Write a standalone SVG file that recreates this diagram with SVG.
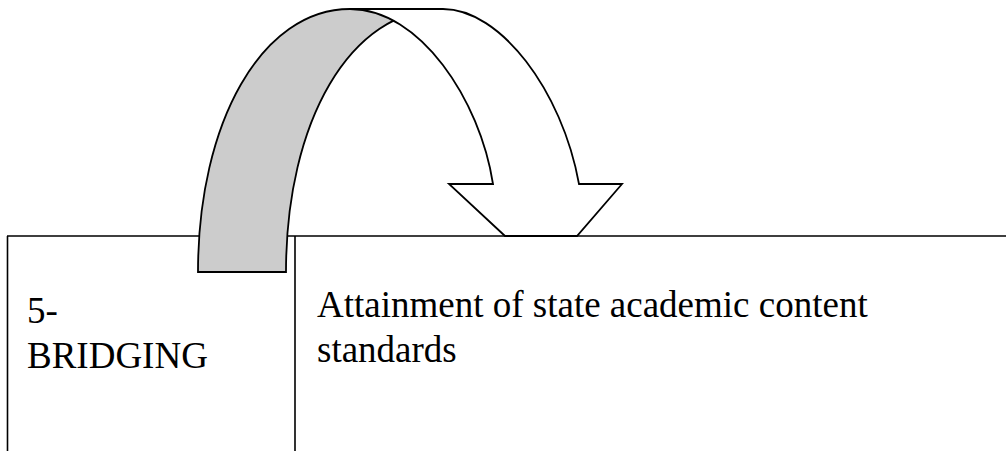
<svg xmlns="http://www.w3.org/2000/svg" width="1006" height="451" viewBox="0 0 1006 451">
<style>
.line{stroke:#000;stroke-width:1.6;fill:none}
.arrow{stroke:#000;stroke-width:1.8;stroke-linejoin:miter}
.txt{font-family:"Liberation Serif","Times New Roman",serif;font-size:37px;fill:#000}
</style>
<rect width="1006" height="451" fill="#fff"/>
<g id="table">
<path class="line" d="M7,236 H1006 M7.5,236 V451 M295,236 V451"/>
</g>
<g id="cell-bridging">
<text class="txt" x="27" y="323">5-</text>
<text class="txt" x="27" y="368">BRIDGING</text>
</g>
<g id="cell-attainment">
<text class="txt" x="317" y="317">Attainment of state academic content</text>
<text class="txt" x="317" y="362">standards</text>
</g>
<g id="connectors">
<g id="curved-arrow">
<path class="arrow" fill="#cccccc" d="M198,272 C198,122 262,9 350,9 L443,9 C350,9 286,122 286,272 Z"/>
<path class="arrow" fill="#fff" d="M350,9 L443,9 C500,9 562,90 579,184 L622,184 L577,236 L505,236 L449,184 L493,184 C480,100 420,9 350,9 Z"/>
</g>
</g>
</svg>
